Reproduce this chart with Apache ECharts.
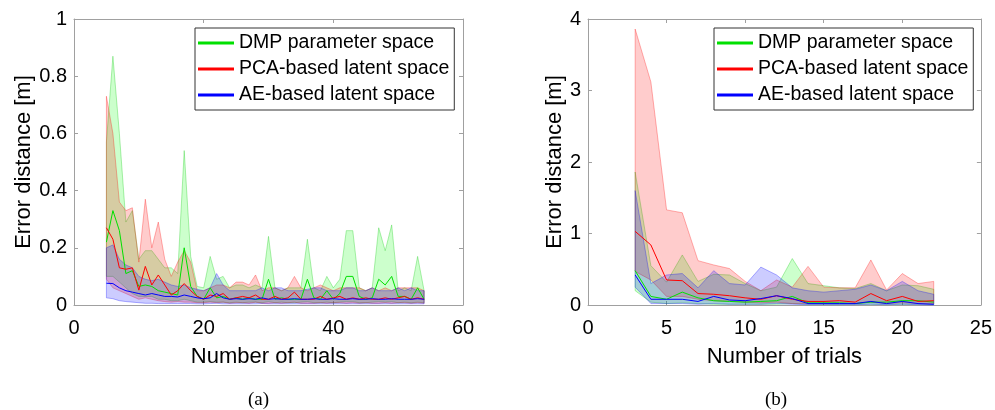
<!DOCTYPE html>
<html>
<head>
<meta charset="utf-8">
<script src="https://cdn.jsdelivr.net/npm/echarts@6/dist/echarts.min.js"></script>
<style>
html, body { margin: 0; background: #fff; }
#chart { width: 995px; height: 410px; }
</style>
</head>
<body>
<div id="chart"></div>
<script>
// (a) trials 5..54
const trialsA = [5,6,7,8,9,10,11,12,13,14,15,16,17,18,19,20,21,22,23,24,25,26,27,28,29,30,31,32,33,34,35,36,37,38,39,40,41,42,43,44,45,46,47,48,49,50,51,52,53,54];
const dmpMeanA = [0.22,0.33,0.26,0.11,0.12,0.065,0.07,0.065,0.05,0.045, 0.04,0.035,0.20,0.065,0.03,0.02,0.06,0.025,0.03,0.02, 0.025,0.02,0.025,0.02,0.02,0.09,0.02,0.025,0.02,0.02, 0.02,0.09,0.025,0.02,0.05,0.02,0.04,0.10,0.10,0.03, 0.02,0.025,0.09,0.07,0.10,0.03,0.03,0.02,0.06,0.02];
const dmpMaxA = [0.57,0.87,0.60,0.29,0.33,0.16,0.19,0.19,0.16,0.13, 0.13,0.11,0.54,0.17,0.065,0.06,0.17,0.09,0.10,0.06, 0.07,0.07,0.06,0.07,0.06,0.24,0.06,0.05,0.06,0.06, 0.06,0.23,0.06,0.05,0.10,0.06,0.09,0.26,0.26,0.06, 0.05,0.06,0.27,0.19,0.28,0.05,0.06,0.05,0.17,0.05];
const dmpMinA = [0.10,0.10,0.08,0.06,0.04,0.03,0.03,0.03,0.02,0.02, 0.015,0.015,0.02,0.015,0.01,0.01,0.012,0.01,0.01,0.008, 0.01,0.008,0.01,0.01,0.008,0.012,0.008,0.01,0.008,0.008, 0.01,0.012,0.008,0.008,0.01,0.008,0.01,0.012,0.012,0.008, 0.008,0.01,0.012,0.01,0.012,0.008,0.01,0.008,0.01,0.008];
const pcaMeanA = [0.27,0.23,0.13,0.125,0.13,0.052,0.135,0.07,0.105,0.07, 0.035,0.05,0.075,0.05,0.03,0.02,0.035,0.03,0.04,0.02, 0.025,0.03,0.025,0.035,0.02,0.02,0.03,0.02,0.025,0.045, 0.02,0.02,0.02,0.03,0.02,0.025,0.03,0.02,0.025,0.02, 0.025,0.02,0.02,0.025,0.02,0.025,0.03,0.02,0.025,0.02];
const pcaMaxA = [0.73,0.60,0.36,0.33,0.34,0.15,0.37,0.20,0.29,0.16, 0.10,0.15,0.19,0.15,0.05,0.05,0.06,0.07,0.07,0.06, 0.08,0.08,0.07,0.105,0.05,0.06,0.06,0.05,0.06,0.10, 0.06,0.05,0.06,0.07,0.06,0.05,0.06,0.06,0.06,0.06, 0.05,0.06,0.05,0.06,0.05,0.06,0.06,0.06,0.06,0.05];
const pcaMinA = [0.09,0.06,0.05,0.04,0.03,0.02,0.025,0.02,0.015,0.012, 0.01,0.012,0.01,0.01,0.008,0.008,0.01,0.008,0.01,0.006, 0.008,0.008,0.006,0.01,0.006,0.006,0.008,0.006,0.008,0.01, 0.006,0.006,0.006,0.008,0.006,0.008,0.008,0.006,0.008,0.006, 0.008,0.006,0.006,0.008,0.006,0.008,0.008,0.006,0.008,0.006];
const aeMeanA = [0.076,0.075,0.06,0.05,0.045,0.04,0.035,0.04,0.035,0.03, 0.03,0.028,0.035,0.03,0.025,0.022,0.025,0.04,0.025,0.02, 0.022,0.02,0.022,0.02,0.025,0.02,0.022,0.02,0.02,0.022, 0.02,0.02,0.022,0.02,0.02,0.022,0.02,0.02,0.022,0.02, 0.02,0.022,0.02,0.02,0.022,0.02,0.02,0.02,0.022,0.02];
const aeMaxA = [0.20,0.21,0.16,0.14,0.13,0.10,0.09,0.085,0.09,0.08, 0.07,0.065,0.07,0.06,0.055,0.05,0.06,0.11,0.07,0.05, 0.05,0.05,0.05,0.05,0.06,0.05,0.06,0.06,0.05,0.05, 0.05,0.055,0.06,0.06,0.05,0.05,0.05,0.06,0.06,0.05, 0.05,0.06,0.05,0.05,0.05,0.06,0.05,0.06,0.05,0.05];
const aeMinA = [0.025,0.022,0.015,0.012,0.01,0.008,0.006,0.006,0.005,0.005, 0.005,0.005,0.005,0.005,0.004,0.004,0.005,0.006,0.004,0.004, 0.004,0.004,0.004,0.004,0.005,0.004,0.004,0.004,0.004,0.004, 0.004,0.004,0.004,0.004,0.004,0.004,0.004,0.004,0.004,0.004, 0.004,0.004,0.004,0.004,0.004,0.004,0.004,0.004,0.004,0.004];

// (b) trials 3..22
const trialsB = [3,4,5,6,7,8,9,10,11,12,13,14,15,16,17,18,19,20,21,22];
const dmpMeanB = [0.48,0.12,0.08,0.18,0.10,0.06,0.05,0.04,0.05,0.06,0.12,0.03,0.03,0.03,0.02,0.04,0.04,0.06,0.06,0.04];
const dmpMaxB = [1.86,0.55,0.32,0.70,0.33,0.43,0.42,0.30,0.20,0.25,0.65,0.30,0.27,0.24,0.23,0.30,0.20,0.28,0.27,0.22];
const dmpMinB = [0.20,0.04,0.02,0.03,0.02,0.01,0.01,0.01,0.01,0.01,0.02,0.01,0.01,0.01,0.01,0.01,0.01,0.01,0.01,0.01];
const pcaMeanB = [1.03,0.84,0.35,0.34,0.16,0.15,0.13,0.10,0.08,0.13,0.08,0.05,0.05,0.06,0.04,0.16,0.06,0.12,0.05,0.06];
const pcaMaxB = [3.86,3.12,1.33,1.29,0.62,0.56,0.51,0.33,0.20,0.35,0.25,0.54,0.25,0.24,0.24,0.63,0.21,0.44,0.30,0.33];
const pcaMinB = [0.47,0.35,0.12,0.12,0.08,0.06,0.05,0.04,0.03,0.04,0.02,0.02,0.02,0.02,0.02,0.04,0.02,0.03,0.02,0.02];
const aeMeanB = [0.42,0.08,0.08,0.08,0.05,0.12,0.07,0.06,0.09,0.13,0.09,0.02,0.02,0.02,0.02,0.05,0.02,0.05,0.02,0.01];
const aeMaxB = [1.60,0.30,0.42,0.44,0.24,0.48,0.30,0.28,0.53,0.42,0.24,0.20,0.18,0.20,0.22,0.28,0.20,0.33,0.20,0.15];
const aeMinB = [0.25,0.02,0.02,0.02,0.01,0.02,0.01,0.01,0.01,0.02,0.01,0.005,0.005,0.005,0.005,0.01,0.005,0.01,0.005,0.0];

const names = ['DMP parameter space', 'PCA-based latent space', 'AE-based latent space'];
const lineColors = ['#00e000', '#ff0000', '#0000ff'];
const fillColors = ['rgba(0,255,0,0.2)', 'rgba(255,0,0,0.2)', 'rgba(0,0,255,0.2)'];
const edgeColors = ['rgba(0,200,0,0.3)', 'rgba(255,0,0,0.3)', 'rgba(0,0,255,0.3)'];

const textFont = '"Liberation Sans", Arial, sans-serif';
const frame = '#a0a0a0';

function pairs(xs, ys) {
  return xs.map((x, i) => [x, ys[i]]);
}

// shaded min..max band, drawn as one polygon through the axis scales
function band(k, g, xs, lo, hi) {
  return {
    type: 'custom', name: 'band' + g + k, xAxisIndex: g * 2, yAxisIndex: g * 2,
    silent: true, z: 1,
    data: xs.map((x, i) => [x, lo[i], hi[i]]),
    encode: { x: 0, y: [1, 2] },
    renderItem: function (params, api) {
      if (params.dataIndex !== 0) return null;
      const top = xs.map((x, i) => api.coord([x, hi[i]]));
      const bot = xs.map((x, i) => api.coord([x, lo[i]])).reverse();
      return {
        type: 'polygon',
        shape: { points: top.concat(bot) },
        style: { fill: fillColors[k], stroke: edgeColors[k], lineWidth: 1 }
      };
    }
  };
}

function mean(k, g, xs, ys) {
  return {
    type: 'line', name: names[k], xAxisIndex: g * 2, yAxisIndex: g * 2,
    symbol: 'none', z: 5,
    lineStyle: { color: lineColors[k], width: 1 },
    itemStyle: { color: lineColors[k] },
    data: pairs(xs, ys)
  };
}

function xAxes(g, max, interval) {
  const base = {
    type: 'value', gridIndex: g, min: 0, max: max, interval: interval,
    splitLine: { show: false },
    axisLine: { show: true, onZero: false, lineStyle: { color: frame, width: 1 } },
    axisTick: { show: true, inside: true, length: 4, lineStyle: { color: frame } }
  };
  return [
    Object.assign({}, base, {
      position: 'bottom',
      axisLabel: { color: '#000', fontFamily: textFont, fontSize: 20, margin: 13 },
      name: 'Number of trials', nameLocation: 'middle', nameGap: 41,
      nameTextStyle: { color: '#000', fontFamily: textFont, fontSize: 22 }
    }),
    Object.assign({}, base, { position: 'top', axisLabel: { show: false } })
  ];
}

function yAxes(g, max, interval, gap) {
  const base = {
    type: 'value', gridIndex: g, min: 0, max: max, interval: interval,
    splitLine: { show: false },
    axisLine: { show: true, onZero: false, lineStyle: { color: frame, width: 1 } },
    axisTick: { show: true, inside: true, length: 4, lineStyle: { color: frame } }
  };
  return [
    Object.assign({}, base, {
      position: 'left',
      axisLabel: { color: '#000', fontFamily: textFont, fontSize: 20, margin: 7 },
      name: 'Error distance [m]', nameLocation: 'middle', nameGap: gap,
      nameTextStyle: { color: '#000', fontFamily: textFont, fontSize: 22 }
    }),
    Object.assign({}, base, { position: 'right', axisLabel: { show: false } })
  ];
}

function legend(left) {
  return {
    data: names, orient: 'vertical', left: left, top: 28,
    icon: 'rect', itemWidth: 36, itemHeight: 3, itemGap: 6,
    padding: [5, 5, 5, 3],
    borderColor: '#333', borderWidth: 1, backgroundColor: '#fff',
    textStyle: { color: '#000', fontFamily: textFont, fontSize: 19.5 }
  };
}

const series = [
  band(0, 0, trialsA, dmpMinA, dmpMaxA),
  band(1, 0, trialsA, pcaMinA, pcaMaxA),
  band(2, 0, trialsA, aeMinA, aeMaxA),
  mean(0, 0, trialsA, dmpMeanA),
  mean(1, 0, trialsA, pcaMeanA),
  mean(2, 0, trialsA, aeMeanA),
  band(0, 1, trialsB, dmpMinB, dmpMaxB),
  band(1, 1, trialsB, pcaMinB, pcaMaxB),
  band(2, 1, trialsB, aeMinB, aeMaxB),
  mean(0, 1, trialsB, dmpMeanB),
  mean(1, 1, trialsB, pcaMeanB),
  mean(2, 1, trialsB, aeMeanB)
];

const chart = echarts.init(document.getElementById('chart'), null, { renderer: 'canvas' });
chart.setOption({
  animation: false,
  backgroundColor: '#fff',
  grid: [
    { left: 74, top: 19, width: 389, height: 286 },
    { left: 588, top: 19, width: 394, height: 286 }
  ],
  xAxis: [].concat(xAxes(0, 60, 20), xAxes(1, 25, 5)),
  yAxis: [].concat(yAxes(0, 1, 0.2, 34), yAxes(1, 4, 1, 22)),
  legend: [legend(195), legend(714)],
  series: series,
  graphic: [
    { type: 'text', left: 248, top: 391, style: { text: '(a)', fill: '#000', font: '19px "Liberation Serif", serif' } },
    { type: 'text', left: 765, top: 391, style: { text: '(b)', fill: '#000', font: '19px "Liberation Serif", serif' } }
  ]
});
</script>
</body>
</html>
